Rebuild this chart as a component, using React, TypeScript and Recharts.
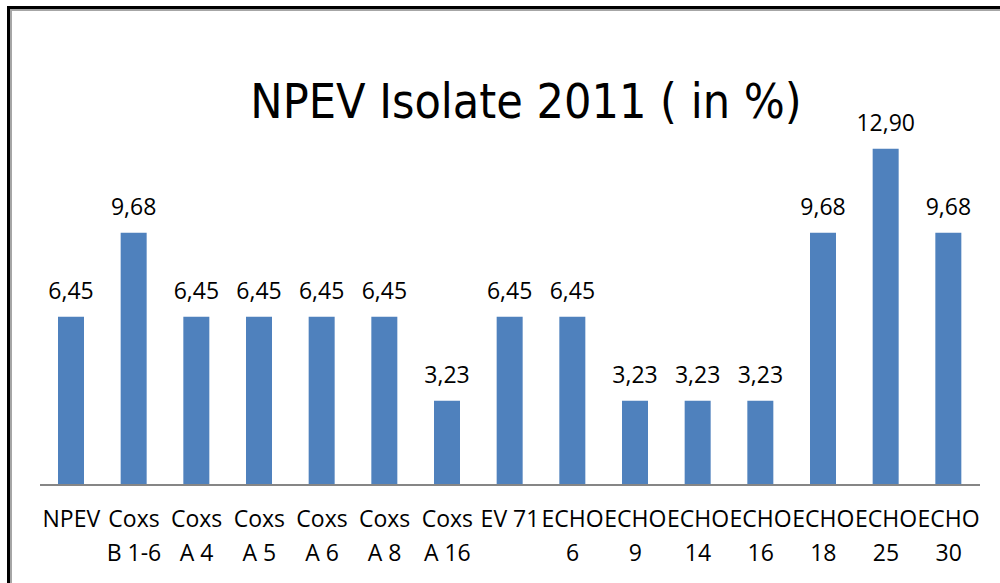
import React from 'react';
import { BarChart, Bar, XAxis, YAxis, LabelList } from 'recharts';

const topLabels = ['NPEV', 'Coxs', 'Coxs', 'Coxs', 'Coxs', 'Coxs', 'Coxs', 'EV 71', 'ECHO', 'ECHO', 'ECHO', 'ECHO', 'ECHO', 'ECHO', 'ECHO'];
const bottomLabels = ['', 'B 1-6', 'A 4', 'A 5', 'A 6', 'A 8', 'A 16', '', '6', '9', '14', '16', '18', '25', '30'];
const percents = [6.45, 9.68, 6.45, 6.45, 6.45, 6.45, 3.23, 6.45, 6.45, 3.23, 3.23, 3.23, 9.68, 12.9, 9.68];

const data = percents.map((v, i) => ({ name: topLabels[i] + '|' + bottomLabels[i], value: v }));

const labelFont = '"Open Sans", sans-serif';

const TwoLineTick = (props: any) => {
  const { x, y, payload } = props;
  const [a, b] = String(payload.value).split('|');
  return (
    <g>
      <text x={x} y={y + 42} textAnchor="middle" fontSize={23} fontFamily={labelFont} fill="#000">{a}</text>
      {b ? (
        <text x={x} y={y + 76} textAnchor="middle" fontSize={23} fontFamily={labelFont} fill="#000">{b}</text>
      ) : null}
    </g>
  );
};

export default function App() {
  return (
    <div style={{ position: 'absolute', left: 0, top: 0, width: 1000, height: 583, overflow: 'hidden', background: '#fff' }}>
      <div style={{ position: 'absolute', left: 7, top: 6, width: 1100, height: 700, border: '3px solid #000', boxSizing: 'border-box' }}>
        <div style={{ position: 'absolute', left: 0, top: 0, right: 0, bottom: 0, border: '2px solid #a6a6a6' }} />
      </div>
      <svg width={1000} height={583} style={{ position: 'absolute', left: 0, top: 0 }}>
        <text x={526} y={118} textAnchor="middle" fontSize={48} fontFamily='"DejaVu Sans", sans-serif' style={{ fontStretch: 'condensed' }} fill="#000">
          NPEV Isolate 2011 ( in %)
        </text>
      </svg>
      <div style={{ position: 'absolute', left: 12, top: 11 }}>
        <BarChart width={988} height={580} data={data} margin={{ top: 109, right: 20, left: 28, bottom: 0 }}>
          <XAxis
            dataKey="name"
            interval={0}
            height={106}
            tickLine={false}
            tickSize={0}
            tickMargin={0}
            axisLine={{ stroke: '#868686', strokeWidth: 2 }}
            tick={<TwoLineTick />}
          />
          <YAxis hide domain={[0, 14]} />
          <Bar dataKey="value" fill="#4F81BD" barSize={26} isAnimationActive={false}>
            <LabelList
              dataKey="value"
              position="top"
              offset={18}
              formatter={(v: any) => Number(v).toFixed(2).replace('.', ',')}
              style={{ fontSize: 23, fontFamily: labelFont, fill: '#000' }}
            />
          </Bar>
        </BarChart>
      </div>
    </div>
  );
}
